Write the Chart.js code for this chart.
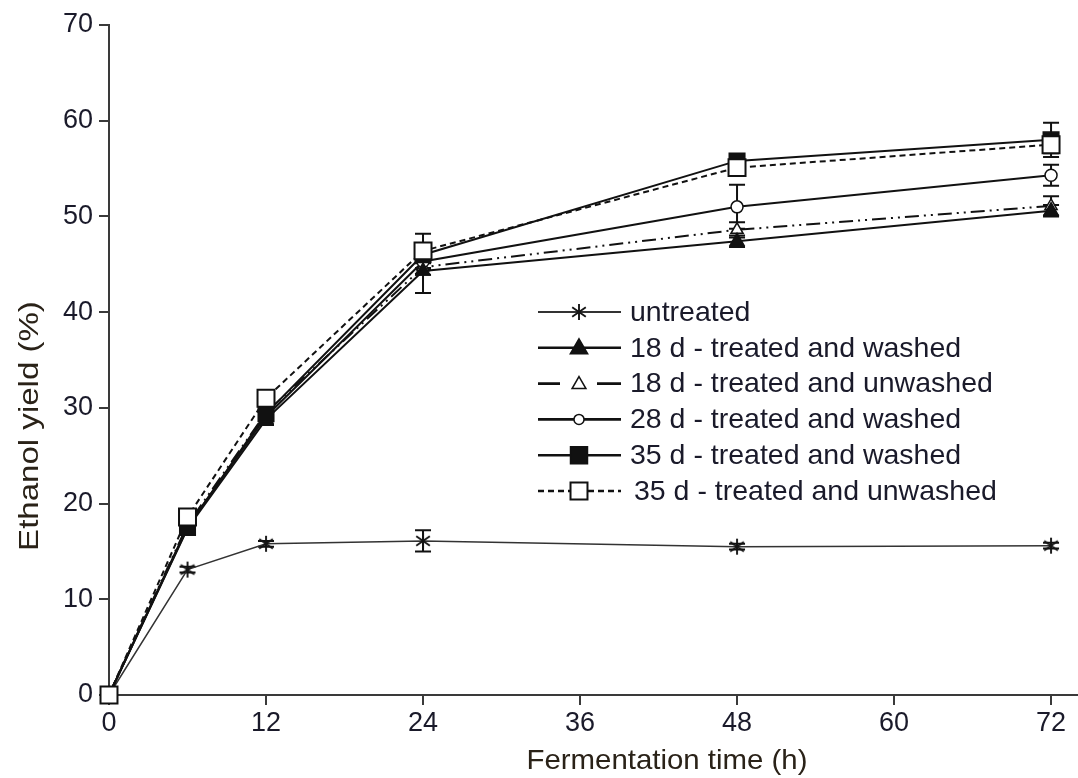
<!DOCTYPE html>
<html>
<head>
    <title>Ethanol yield</title>
    <script src="https://cdn.jsdelivr.net/npm/chart.js"></script>
    <style>
        body { margin: 0; background: #fff; }
        #wrap { width: 1078px; height: 778px; }
    </style>
</head>
<body>
    <div id="wrap"><canvas id="yieldChart"></canvas></div>

    <script>
        // fermentation time (h)
        var hours = [0, 6, 12, 24, 48, 72];
        var xTicks = [0, 12, 24, 36, 48, 60, 72];

        // ethanol yield (%) per sample, with error bar half-widths
        var untreated   = [0, 13.1, 15.8, 16.1, 15.5, 15.6];
        var untreatedSd = [0, 0.3, 0.3, 1.1, 0.3, 0.3];
        var washed18    = [0, 17.4, 28.8, 44.3, 47.4, 50.6];
        var washed18Sd  = [0, 0.4, 0.6, 2.3, 0.6, 0.6];
        var unwashed18  = [0, 17.8, 29.5, 44.7, 48.6, 51.1];
        var unwashed18Sd = [0, 0.4, 0.6, 0.8, 0.8, 1.0];
        var washed28    = [0, 17.6, 29.1, 45.3, 51.0, 54.3];
        var washed28Sd  = [0, 0.4, 0.5, 0.8, 2.3, 1.1];
        var washed35    = [0, 17.5, 29.4, 46.0, 55.8, 58.0];
        var washed35Sd  = [0, 0.4, 0.5, 0.9, 0.5, 1.8];
        var unwashed35  = [0, 18.6, 31.0, 46.4, 55.1, 57.5];
        var unwashed35Sd = [0, 0.4, 0.5, 1.8, 0.8, 0.9];

        var font = "'Liberation Sans', Arial, sans-serif";
        var ink = '#111';
        var textInk = '#1a1a2a';

        // asterisk marker: vertical stroke plus two diagonals
        function asterisk(size) {
            var c = document.createElement('canvas');
            c.width = size; c.height = size;
            var g = c.getContext('2d');
            var m = size / 2, r = size / 2 - 1;
            g.strokeStyle = '#151515';
            g.lineWidth = 1.9;
            g.beginPath();
            g.moveTo(m, m - r); g.lineTo(m, m + r);
            g.moveTo(m - r * 0.85, m - r * 0.6); g.lineTo(m + r * 0.85, m + r * 0.6);
            g.moveTo(m - r * 0.85, m + r * 0.6); g.lineTo(m + r * 0.85, m - r * 0.6);
            g.stroke();
            return c;
        }

        function series(label, values, sd, extra) {
            var ds = {
                label: label,
                data: values.map(function (v, i) { return { x: hours[i], y: v }; }),
                sd: sd,
                borderColor: ink,
                borderWidth: 2,
                pointBorderColor: ink,
                pointBorderWidth: 1.5,
                pointHoverRadius: 0,
                tension: 0,
                fill: false,
                clip: false
            };
            for (var k in extra) ds[k] = extra[k];
            return ds;
        }

        var datasets = [
            series('untreated', untreated, untreatedSd, {
                borderColor: '#333', borderWidth: 1.5, pointStyle: asterisk(18), pointRadius: 9,
                legendRadius: 9, order: 6
            }),
            series('18 d - treated and washed', washed18, washed18Sd, {
                pointStyle: 'triangle', pointRadius: 8, pointBackgroundColor: ink,
                legendRadius: 10, order: 3
            }),
            series('18 d - treated and unwashed', unwashed18, unwashed18Sd, {
                borderDash: [14, 5, 2, 5, 2, 5], legendDash: [22, 37, 26],
                pointStyle: 'triangle', pointRadius: 7, pointBackgroundColor: '#fff',
                legendRadius: 8, order: 5
            }),
            series('28 d - treated and washed', washed28, washed28Sd, {
                pointStyle: 'circle', pointRadius: 6, pointBackgroundColor: '#fff',
                legendRadius: 5, order: 4
            }),
            series('35 d - treated and washed', washed35, washed35Sd, {
                pointStyle: 'rect', pointRadius: 11, pointBackgroundColor: ink,
                legendRadius: 12, order: 2
            }),
            series('35 d - treated and unwashed', unwashed35, unwashed35Sd, {
                borderDash: [6, 4], pointStyle: 'rect', pointRadius: 12,
                pointBackgroundColor: '#fff', pointBorderWidth: 2,
                legendRadius: 12, order: 1
            })
        ];

        // vertical error bars with caps, placed through the scales
        var errorBars = {
            id: 'errorBars',
            beforeDatasetsDraw: function (chart) {
                var ctx = chart.ctx, y = chart.scales.y;
                ctx.save();
                ctx.strokeStyle = ink;
                ctx.lineWidth = 2;
                chart.data.datasets.forEach(function (ds, i) {
                    var meta = chart.getDatasetMeta(i);
                    ds.data.forEach(function (p, j) {
                        var e = ds.sd[j];
                        if (!e) return;
                        var px = meta.data[j].x;
                        var top = y.getPixelForValue(p.y + e);
                        var bot = y.getPixelForValue(p.y - e);
                        ctx.beginPath();
                        ctx.moveTo(px, top); ctx.lineTo(px, bot);
                        ctx.moveTo(px - 8, top); ctx.lineTo(px + 8, top);
                        ctx.moveTo(px - 8, bot); ctx.lineTo(px + 8, bot);
                        ctx.stroke();
                    });
                });
                ctx.restore();
            }
        };

        // legend inside the plot: line sample, marker, label
        var boxLegend = {
            id: 'boxLegend',
            afterDraw: function (chart) {
                var ctx = chart.ctx;
                var x0 = 538, x1 = 621, top = 312, step = 35.8;
                ctx.save();
                ctx.font = '28.5px ' + font;
                ctx.textBaseline = 'middle';
                chart.data.datasets.forEach(function (ds, i) {
                    var yy = top + i * step;
                    ctx.strokeStyle = ds.borderColor;
                    ctx.lineWidth = i === 0 ? 2.2 : 2.6;
                    ctx.setLineDash(ds.legendDash || ds.borderDash || []);
                    ctx.beginPath();
                    ctx.moveTo(x0, yy); ctx.lineTo(x1, yy);
                    ctx.stroke();
                    ctx.setLineDash([]);
                    ctx.fillStyle = ds.pointBackgroundColor || '#fff';
                    ctx.strokeStyle = ink;
                    ctx.lineWidth = ds.pointBorderWidth || 1.5;
                    Chart.helpers.drawPoint(ctx, {
                        pointStyle: ds.pointStyle, rotation: 0, radius: ds.legendRadius,
                        borderWidth: ctx.lineWidth
                    }, 579, yy + (ds.pointStyle === 'triangle' ? 1 : 0));
                    ctx.fillStyle = textInk;
                    ctx.fillText(ds.label, i === 5 ? 634 : 630, yy + 1);
                });
                ctx.restore();
            }
        };

        // axis titles, stretched a little along the text as in the figure
        var axisTitles = {
            id: 'axisTitles',
            afterDraw: function (chart) {
                var ctx = chart.ctx;
                ctx.save();
                ctx.fillStyle = '#2a2218';
                ctx.font = '28px ' + font;
                ctx.textAlign = 'center';
                ctx.textBaseline = 'middle';
                ctx.save();
                ctx.translate(667, 761);
                ctx.scale(1.05, 1);
                ctx.fillText('Fermentation time (h)', 0, 0);
                ctx.restore();
                ctx.translate(30, 426);
                ctx.rotate(-Math.PI / 2);
                ctx.scale(1.18, 1);
                ctx.fillText('Ethanol yield (%)', 0, 0);
                ctx.restore();
            }
        };

        var ctx = document.getElementById('yieldChart').getContext('2d');
        var chart = new Chart(ctx, {
            type: 'line',
            data: { datasets: datasets },
            options: {
                responsive: true,
                maintainAspectRatio: false,
                animation: false,
                layout: { autoPadding: false, padding: { top: 25, right: 0, bottom: 0, left: 0 } },
                plugins: { legend: { display: false }, tooltip: { enabled: false } },
                scales: {
                    x: {
                        type: 'linear',
                        min: 0,
                        max: 74.06,
                        afterBuildTicks: function (scale) {
                            scale.ticks = xTicks.map(function (v) { return { value: v }; });
                        },
                        afterFit: function (scale) {
                            scale.height = 83;
                            scale.paddingRight = 0;
                            scale.paddingLeft = 0;
                        },
                        grid: { drawOnChartArea: false, tickLength: 10, color: '#3a3a3a', lineWidth: 2 },
                        border: { color: '#3a3a3a', width: 2 },
                        ticks: { color: textInk, font: { size: 27, family: font }, padding: 2, maxRotation: 0 }
                    },
                    y: {
                        min: 0,
                        max: 70,
                        ticks: { stepSize: 10, color: textInk, font: { size: 27, family: font }, padding: 6 },
                        afterFit: function (scale) { scale.width = 109; },
                        grid: { drawOnChartArea: false, tickLength: 10, color: '#3a3a3a', lineWidth: 2 },
                        border: { color: '#3a3a3a', width: 2 }
                    }
                }
            },
            plugins: [errorBars, boxLegend, axisTitles]
        });
    </script>
</body>
</html>
